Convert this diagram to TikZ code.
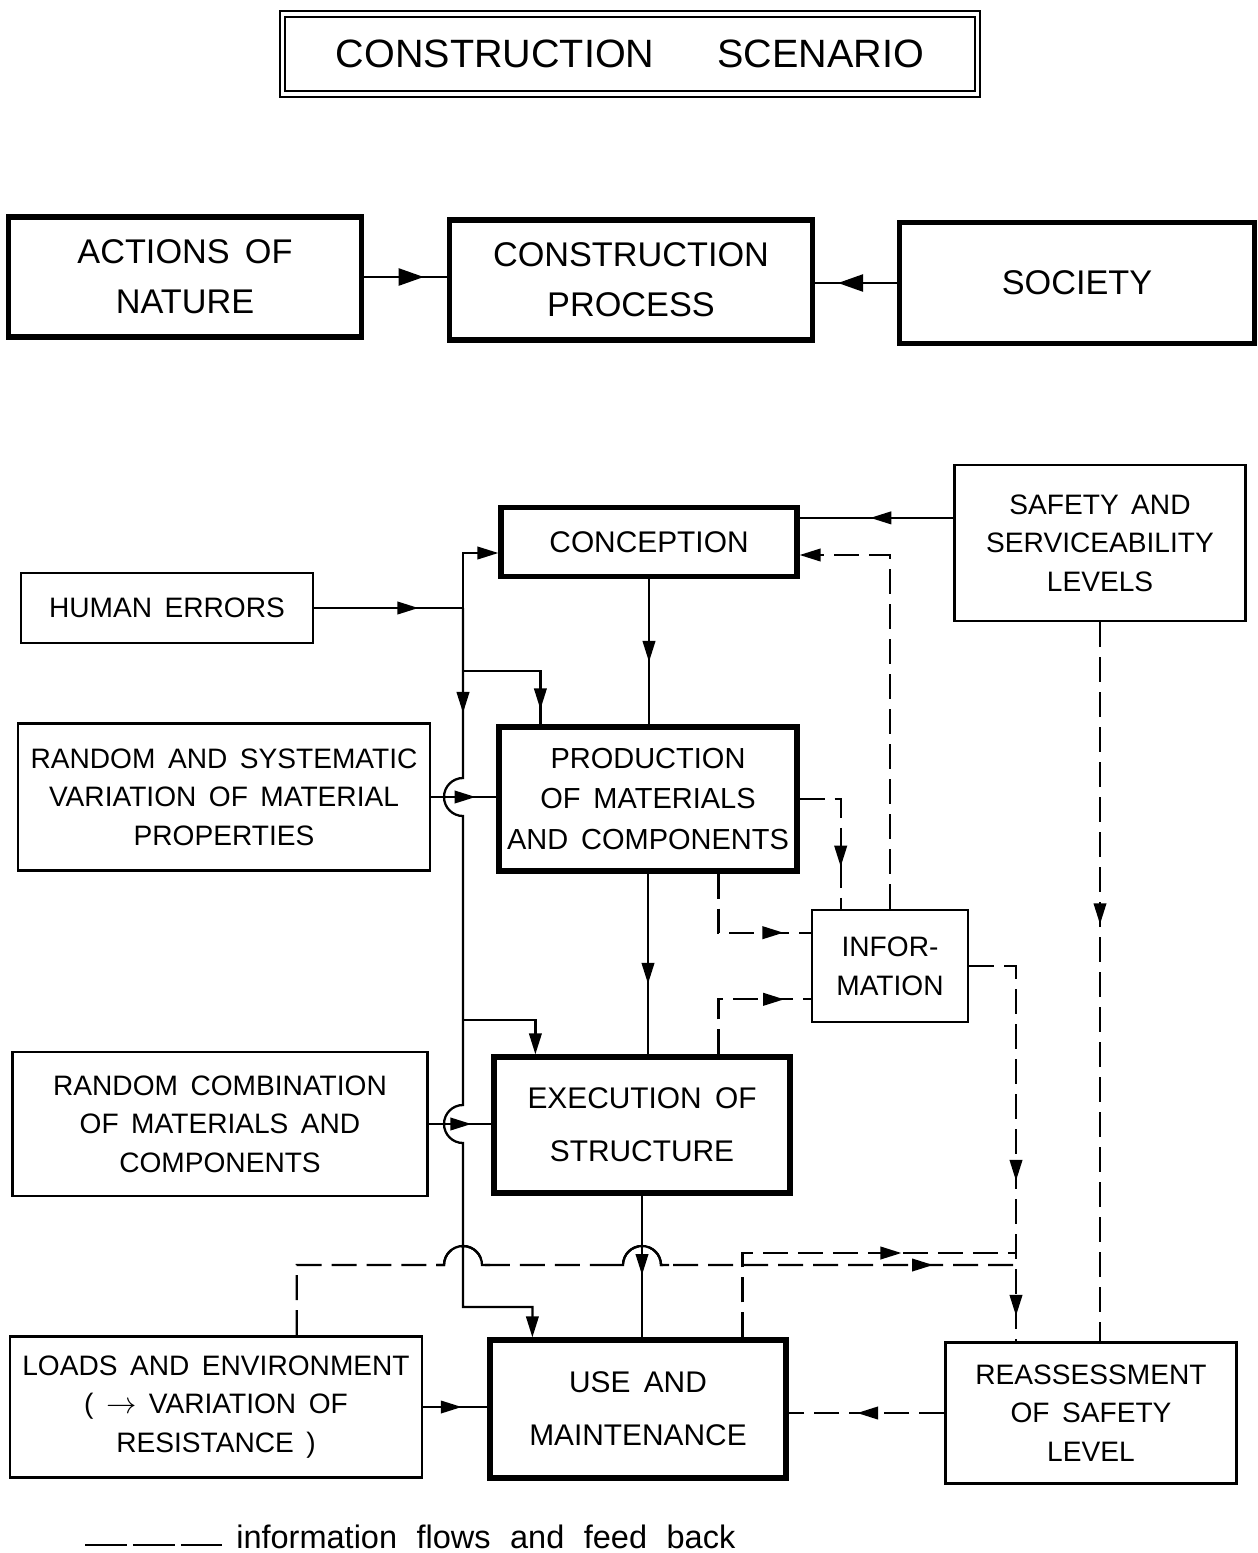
\documentclass[tikz,border=0pt]{standalone}
\usepackage{fontspec}
\setmainfont{Liberation Sans}[WordSpace=1.6]
\usetikzlibrary{arrows.meta,calc,decorations.markings}

\begin{document}
\begin{tikzpicture}[x=0.02cm,y=-0.02cm,
  every node/.style={align=center,inner sep=0pt},
  thin box/.style={draw,line width=1.5pt,font=\fontsize{16}{22}\selectfont},
  main box/.style={draw,line width=3pt,font=\fontsize{17}{23}\selectfont},
  top box/.style={draw,line width=3pt,font=\fontsize{19.5}{28.5}\selectfont},
  wire/.style={line width=1.3pt},
  flow/.style={wire,dash pattern=on 0.5cm off 0.2cm},
  arr/.style={postaction={decorate,decoration={markings,mark=at position #1 with {\arrow{Triangle[length=0.42cm,width=0.25cm]}}}}},
  big arr/.style={postaction={decorate,decoration={markings,mark=at position #1 with {\arrow{Triangle[length=0.5cm,width=0.34cm]}}}}},
  endarr/.style={-{Triangle[length=0.42cm,width=0.25cm]}}]
  \useasboundingbox (0,0) rectangle (1258,1553);

  \node[draw,double,line width=1.2pt,double distance=1.8pt,minimum width=13.9cm,minimum height=1.6cm,
        font=\fontsize{22.5}{27}\selectfont] (title) at (630,54) {CONSTRUCTION\hspace{1.6em}SCENARIO};

  \node[top box,minimum width=7.06cm,minimum height=2.4cm] (act) at (185,277) {ACTIONS OF\\NATURE};
  \node[top box,minimum width=7.26cm,minimum height=2.4cm] (cproc) at (631,280) {CONSTRUCTION\\PROCESS};
  \node[top box,minimum width=7.1cm,minimum height=2.42cm] (soc) at (1077,283) {SOCIETY};

  \node[main box,minimum width=5.92cm,minimum height=1.38cm] (conc) at (649,542) {CONCEPTION};
  \node[thin box,minimum width=5.82cm,minimum height=3.12cm] (safe) at (1100,543) {SAFETY AND\\SERVICEABILITY\\LEVELS};
  \node[thin box,minimum width=5.84cm,minimum height=1.4cm] (hum) at (167,608) {HUMAN ERRORS};
  \node[thin box,minimum width=8.24cm,minimum height=2.94cm] (rsv) at (224,797) {RANDOM AND SYSTEMATIC\\VARIATION OF MATERIAL\\PROPERTIES};
  \node[main box,minimum width=5.96cm,minimum height=2.88cm,font=\fontsize{16.5}{23}\selectfont] (prod) at (648,799) {PRODUCTION\\OF MATERIALS\\AND COMPONENTS};
  \node[thin box,minimum width=3.12cm,minimum height=2.24cm] (info) at (890,966) {INFOR-\\MATION};
  \node[thin box,minimum width=8.3cm,minimum height=2.88cm] (rc) at (220,1124) {RANDOM COMBINATION\\OF MATERIALS AND\\COMPONENTS};
  \node[main box,minimum width=5.92cm,minimum height=2.72cm,font=\fontsize{17}{30}\selectfont] (exec) at (642,1125) {EXECUTION OF\\STRUCTURE};
  \node[thin box,minimum width=8.24cm,minimum height=2.82cm] (loads) at (216,1407) {LOADS AND ENVIRONMENT\\( $\rightarrow$ VARIATION OF\\RESISTANCE )};
  \node[main box,minimum width=5.92cm,minimum height=2.76cm,font=\fontsize{17}{30}\selectfont] (use) at (638,1409) {USE AND\\MAINTENANCE};
  \node[thin box,minimum width=5.82cm,minimum height=2.82cm] (reas) at (1091,1413) {REASSESSMENT\\OF SAFETY\\LEVEL};

  \coordinate (bus) at (463,0);
  \coordinate (hub) at (1016,0);
  \coordinate (sc) at ($(conc.north east)+(0,13)$);
  \coordinate (t1) at (1016,1253);
  \coordinate (t2) at (1016,1265);

  \draw[wire,big arr=0.72] (act.east) -- (act.east -| cproc.west);
  \draw[wire,big arr=0.72] (soc.west) -- (soc.west -| cproc.east);

  \draw[wire,arr=0.7] (hum.east) -- (hum.east -| bus);
  \draw[wire,endarr] (hum.east -| bus) |- ($(conc.west)+(0,11)$);
  \draw[wire,arr=2.1cm,endarr] (hum.east -| bus) -- (463,778) arc[start angle=270,end angle=90,radius=19]
    -- (463,1105) arc[start angle=270,end angle=90,radius=19] -- (463,1307) -| ($(use.north west)+(45,0)$);
  \draw[wire,arr=-0.3cm] (463,671) -| ($(prod.north west)+(44,0)$);
  \draw[wire,endarr] (463,1020) -| ($(exec.north west)+(44,0)$);
  \draw[wire,arr=0.68] (rsv.east) -- (rsv.east -| prod.west);
  \draw[wire,arr=0.68] (rc.east) -- (rc.east -| exec.west);
  \draw[wire,arr=0.6] (loads.east) -- (loads.east -| use.west);

  \draw[wire,arr=0.57] (conc.south) -- (conc.south |- prod.north);
  \draw[wire,arr=0.61] (prod.south) -- (prod.south |- exec.north);
  \draw[wire,arr=0.56] (exec.south) -- (exec.south |- use.north);
  \draw[wire,arr=0.54] (safe.west |- sc) -- (sc);

  \draw[flow,endarr] (info.north) |- ($(conc.east)+(0,13)$);
  \draw[flow,arr=-0.84cm] (prod.east) -| ($(info.north west)+(30,0)$);
  \draw[flow,arr=0.82] ($(prod.south west)+(222,0)$) |- ($(info.north west)+(0,24)$);
  \draw[flow,arr=0.82] ($(exec.north west)+(227,0)$) |- ($(info.south west)+(0,-24)$);
  \draw[flow,arr=0.62,arr=0.94] (info.east) -| (hub |- reas.north);
  \draw[flow,arr=0.42] (safe.south) -- (safe.south |- reas.north);
  \draw[flow,arr=0.56] (reas.west) -- (reas.west -| use.east);
  \draw[flow,arr=0.68] ($(use.north west)+(255,0)$) |- (t1);
  \draw[flow,arr=-1.66cm] ($(loads.north west)+(288,0)$) |- (444,1265) arc[start angle=180,end angle=360,radius=19]
    -- (623,1265) arc[start angle=180,end angle=360,radius=19] -- (t2);
  % hops drawn solid
  \draw[wire] (436,1265) -- (444,1265) arc[start angle=180,end angle=360,radius=19] -- (490,1265);
  \draw[wire] (615,1265) -- (623,1265) arc[start angle=180,end angle=360,radius=19] -- (669,1265);

  \node[font=\fontsize{18.5}{22}\selectfont,anchor=base west] (leg) at (236,1548)
    {information\hspace{0.6em}flows\hspace{0.6em}and\hspace{0.6em}feed\hspace{0.6em}back};
  \draw[wire,dash pattern=on 0.84cm off 0.12cm] (85,1545) -- (222,1545);
\end{tikzpicture}
\end{document}
